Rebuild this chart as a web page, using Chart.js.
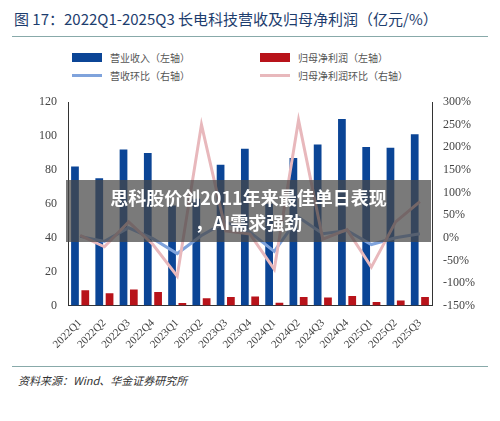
<!DOCTYPE html><html><head><meta charset="utf-8"><script src="https://cdn.jsdelivr.net/npm/chart.js@4"></script>
<style>body{margin:0;width:500px;height:421px;background:#fff;font-family:"Noto Sans CJK SC";position:relative;overflow:hidden}
#t{position:absolute;left:14px;top:8px;font-size:15px;color:#1d3d6e}
.hl{position:absolute;left:12px;width:476px;height:1px;background:#8aa}
#lg{position:absolute;left:0;top:46px;width:500px;font-size:10px;color:#555}
.it{position:absolute;display:flex;align-items:center}
.sw{width:30px;height:9px;margin-right:8px}
.ln{width:30px;height:3px;margin-right:8px}
#src{position:absolute;left:18px;top:372px;font-size:11px;color:#333;font-style:italic}
#ov{position:absolute;left:66px;top:180px;width:365px;height:62px;background:rgba(70,70,70,.72);color:#fff;font-weight:bold;font-size:18px;line-height:25px;padding:5px 6px;box-sizing:border-box;text-align:center}
#c{position:absolute;left:0;top:90px}</style></head><body>
<div id="t">图 17：2022Q1-2025Q3 长电科技营收及归母净利润（亿元/%）</div>
<div class="hl" style="top:36px"></div>
<div id="lg"><div class="it" style="left:72px;top:4px"><div class="sw" style="background:#0b4596"></div>营业收入（左轴）</div>
<div class="it" style="left:260px;top:4px"><div class="sw" style="background:#b8131a"></div>归母净利润（左轴）</div>
<div class="it" style="left:72px;top:22px"><div class="ln" style="background:#7fa3dc"></div>营收环比（右轴）</div>
<div class="it" style="left:260px;top:22px"><div class="ln" style="background:#e8b8bc"></div>归母净利润环比（右轴）</div></div>
<canvas id="c" width="500" height="264"></canvas>
<div class="hl" style="top:366px"></div>
<div id="src">资料来源：Wind、华金证券研究所</div>
<div id="ov">思科股价创2011年来最佳单日表现<br>，AI需求强劲</div>
<script>
const categories=["2022Q1","2022Q2","2022Q3","2022Q4","2023Q1","2023Q2","2023Q3","2023Q4","2024Q1","2024Q2","2024Q3","2024Q4","2025Q1","2025Q2","2025Q3"];
const revenue=[82,75,92,90,59,63,83,92.5,60,87,95,110,93.5,93,101];
const profit=[9,7.3,9.5,8,1.5,4.3,5,5.3,1.7,5,4.8,5.6,2.1,3,5];
const revenueQoQ=[3,-8,22,-2,-35,5,35,12,-30,45,9,16,-15,0,9];
const profitQoQ=[5,-20,35,-15,-85,250,15,8,-70,260,-3,18,-65,35,80];
const f="'Liberation Serif', serif";
new Chart(document.getElementById('c'),{data:{labels:categories,datasets:[
{type:'line',data:profitQoQ,yAxisID:'y1',borderColor:'#e8b8bc',borderWidth:3,pointRadius:0,tension:0,order:0},
{type:'line',data:revenueQoQ,yAxisID:'y1',borderColor:'#7fa3dc',borderWidth:3,pointRadius:0,tension:0,order:1},
{type:'bar',data:revenue,backgroundColor:'#0b4596',yAxisID:'y',order:2,barPercentage:0.75,categoryPercentage:0.85},
{type:'bar',data:profit,backgroundColor:'#b8131a',yAxisID:'y',order:3,barPercentage:0.75,categoryPercentage:0.85}]},
options:{responsive:false,animation:false,layout:{padding:{left:36,right:22,top:12}},plugins:{legend:{display:false},tooltip:{enabled:false}},
scales:{x:{grid:{display:false},border:{color:'#333'},ticks:{autoSkip:false,color:'#444',font:{family:f,size:11},maxRotation:45,minRotation:45}},
y:{min:0,max:120,ticks:{stepSize:20,color:'#444',font:{family:f,size:12}},grid:{display:false},border:{color:'#333'}},
y1:{position:'right',min:-150,max:300,ticks:{stepSize:50,color:'#444',font:{family:f,size:12},callback:v=>v+'%'},grid:{display:false},border:{color:'#333'}}}}});
</script></body></html>
